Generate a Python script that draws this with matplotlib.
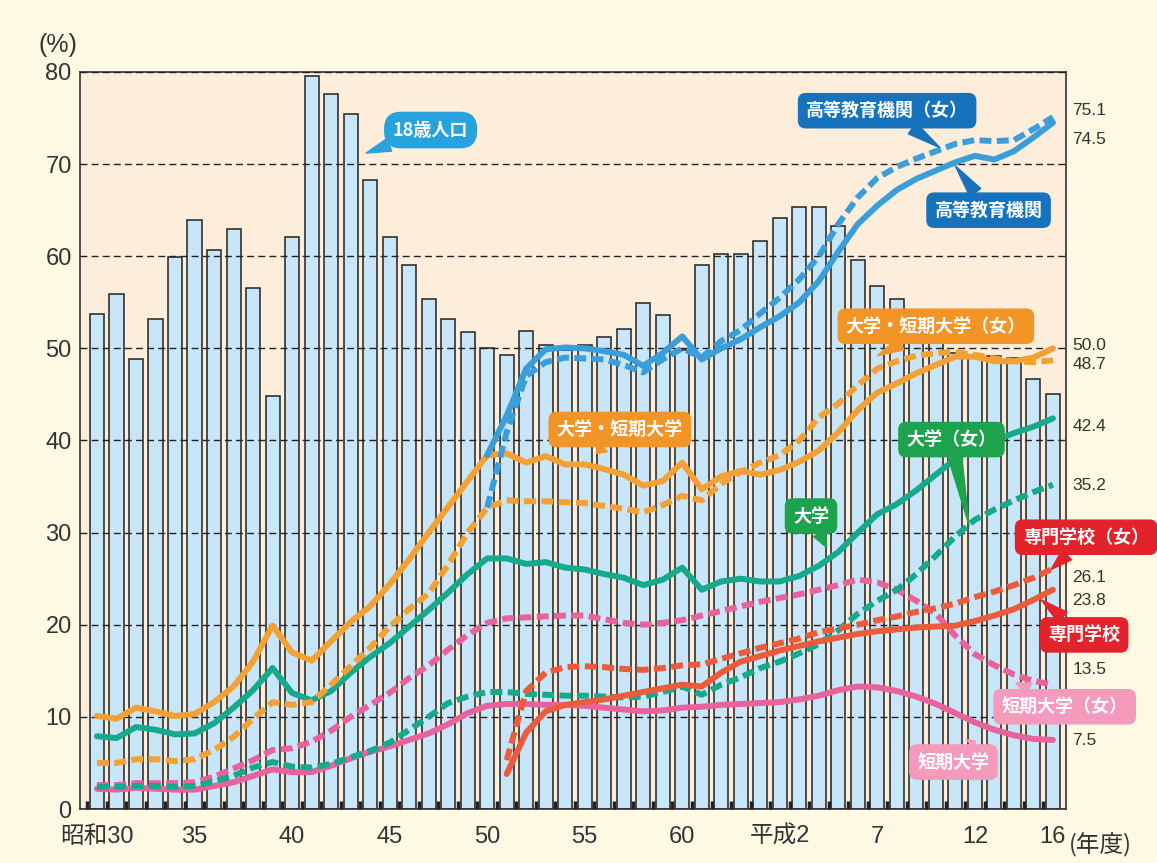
import numpy as np
import matplotlib
matplotlib.use('Agg')
import matplotlib.pyplot as plt

plt.rcParams['font.family'] = ['Liberation Sans', 'Noto Sans CJK JP', 'DejaVu Sans']

# ── data ─────────────────────────────────────────────────────────────
years = np.arange(1955, 2005)          # 昭和30 … 平成16
years_he = np.arange(1975, 2005)       # 高等教育機関
years_sen = np.arange(1976, 2005)      # 専門学校

# 18歳人口 (bars, plotted on the same scale)
pop_18 = [53.7, 55.9, 48.9, 53.2, 59.9, 63.9, 60.7, 63.0, 56.5, 44.8,
          62.1, 79.6, 77.6, 75.4, 68.3, 62.1, 59.0, 55.4, 53.2, 51.8,
          50.0, 49.3, 51.9, 50.4, 49.8, 50.4, 51.2, 52.1, 54.9, 53.6,
          49.8, 59.0, 60.2, 60.2, 61.7, 64.1, 65.4, 65.4, 63.3, 59.6,
          56.8, 55.4, 53.7, 51.8, 49.5, 49.3, 49.2, 49.0, 46.7, 45.0]

daigaku_tandai = [10.1, 9.8, 11.0, 10.6, 10.1, 10.3, 11.6, 13.3, 16.0, 19.9,
                  17.0, 16.1, 18.2, 20.3, 22.0, 24.4, 27.1, 30.0, 32.8, 35.6,
                  38.4, 38.6, 37.6, 38.3, 37.4, 37.4, 36.9, 36.3, 35.1, 35.6,
                  37.6, 34.7, 36.1, 36.7, 36.3, 36.8, 37.7, 38.9, 40.9, 43.3,
                  45.2, 46.2, 47.3, 48.2, 49.1, 49.1, 48.6, 48.6, 49.0, 50.0]
daigaku_tandai_f = [5.0, 5.0, 5.4, 5.4, 5.2, 5.4, 6.4, 7.8, 9.8, 11.6,
                    11.3, 11.6, 13.5, 15.5, 17.5, 19.8, 21.7, 23.4, 26.5, 30.0,
                    32.7, 33.5, 33.4, 33.4, 33.3, 33.2, 32.9, 32.6, 32.2, 33.0,
                    34.0, 33.5, 35.3, 36.6, 37.6, 38.4, 40.0, 42.5, 44.0, 46.0,
                    47.8, 48.6, 49.2, 49.5, 49.6, 49.3, 48.9, 48.6, 48.5, 48.7]
daigaku = [7.9, 7.7, 8.9, 8.6, 8.1, 8.2, 9.3, 11.0, 12.9, 15.3,
           12.6, 11.8, 12.8, 14.8, 16.5, 18.0, 19.8, 21.6, 23.5, 25.5,
           27.2, 27.2, 26.6, 26.8, 26.2, 26.0, 25.5, 25.1, 24.3, 24.9,
           26.2, 23.8, 24.7, 25.0, 24.7, 24.7, 25.3, 26.4, 27.9, 30.0,
           32.0, 33.1, 34.6, 36.3, 38.0, 39.5, 40.0, 40.8, 41.5, 42.4]
daigaku_f = [2.4, 2.4, 2.5, 2.5, 2.4, 2.5, 3.0, 3.6, 4.5, 5.1,
             4.6, 4.5, 4.9, 5.6, 6.3, 7.2, 8.6, 10.0, 11.5, 12.2,
             12.7, 12.7, 12.5, 12.4, 12.3, 12.3, 12.2, 12.1, 12.2, 12.7,
             13.3, 12.4, 13.5, 14.3, 15.3, 16.0, 16.9, 17.9, 19.4, 21.2,
             22.6, 23.8, 25.5, 27.5, 29.6, 31.4, 32.5, 33.5, 34.4, 35.2]
tandai = [2.2, 2.1, 2.3, 2.2, 2.1, 2.1, 2.5, 2.9, 3.6, 4.3,
          4.0, 4.0, 4.7, 5.5, 6.2, 6.8, 7.5, 8.2, 9.2, 10.4,
          11.2, 11.4, 11.4, 11.3, 11.3, 11.2, 11.0, 10.8, 10.6, 10.7,
          11.0, 11.1, 11.3, 11.4, 11.5, 11.6, 11.9, 12.3, 12.9, 13.3,
          13.2, 12.8, 12.2, 11.4, 10.4, 9.4, 8.6, 8.0, 7.6, 7.5]
tandai_f = [2.6, 2.6, 2.8, 2.8, 2.8, 2.9, 3.5, 4.4, 5.3, 6.4,
            6.6, 7.3, 8.5, 10.0, 11.3, 12.6, 14.2, 15.6, 17.3, 18.9,
            20.2, 20.7, 20.8, 20.9, 21.0, 21.0, 20.6, 20.2, 20.0, 20.2,
            20.5, 21.0, 21.5, 22.0, 22.5, 22.9, 23.3, 23.8, 24.3, 24.9,
            24.6, 23.8, 22.6, 21.2, 18.8, 16.8, 15.6, 14.6, 13.9, 13.5]
senmon = [3.8, 8.3, 10.6, 11.3, 11.6, 11.9, 12.3, 12.7, 13.1, 13.5,
          13.3, 14.8, 16.0, 16.6, 17.2, 17.7, 18.2, 18.6, 19.0, 19.3,
          19.5, 19.7, 19.8, 19.9, 20.4, 21.0, 21.7, 22.7, 23.8]
senmon_f = [5.3, 12.8, 14.8, 15.4, 15.5, 15.4, 15.2, 15.1, 15.3, 15.6,
            15.7, 16.3, 16.9, 17.5, 18.0, 18.5, 19.2, 19.6, 20.0, 20.5,
            20.9, 21.4, 21.8, 22.3, 23.0, 23.6, 24.3, 25.1, 26.1]
koutou = [38.4, 42.7, 47.8, 49.9, 50.1, 50.0, 49.7, 49.3, 48.1, 49.5,
          51.3, 48.8, 50.0, 51.0, 52.3, 53.5, 55.0, 57.3, 60.5, 63.5,
          65.5, 67.2, 68.4, 69.3, 70.2, 70.9, 70.5, 71.4, 72.9, 74.5]
koutou_f = [32.7, 40.9, 47.0, 48.5, 49.0, 48.9, 48.8, 48.2, 47.4, 48.8,
            50.0, 49.0, 50.8, 52.0, 53.8, 55.5, 57.5, 60.0, 63.5, 66.4,
            68.5, 69.7, 70.6, 71.4, 72.2, 72.6, 72.5, 72.6, 73.8, 75.1]

tick_years = [1955, 1960, 1965, 1970, 1975, 1980, 1985, 1990, 1995, 2000, 2004]
tick_labels = ['昭和30', '35', '40', '45', '50', '55', '60', '平成2', '7', '12', '16']

# ── colours ──────────────────────────────────────────────────────────
C_BLUE, C_ORANGE, C_GREEN = '#3A9EDB', '#F5A032', '#16A98B'
C_RED, C_PINK = '#EE5B3A', '#E9629C'

fig = plt.figure(figsize=(11.57, 8.63), dpi=100, facecolor='#FFF9E4')
ax = fig.add_axes([80/1157, 1-809/863, 986/1157, 737/863])
ax.set_facecolor('#FDEEDC')

ax.bar(years, pop_18, width=0.72, color='#C8E6F8', edgecolor='#222222',
       linewidth=1.1, zorder=1)

ax.set_xlim(1954.13, 2004.67)
ax.set_ylim(0, 80)
ax.set_yticks(range(0, 81, 10))
ax.yaxis.grid(True, linestyle=(0, (5, 3)), color='#222222', linewidth=1.0)
ax.set_axisbelow(False)

# ── lines ────────────────────────────────────────────────────────────
LW = 4.3
DASH = (0, (2.0, 0.9))
series = [
    (years, tandai_f, C_PINK, DASH),
    (years, tandai, C_PINK, '-'),
    (years, daigaku_f, C_GREEN, DASH),
    (years, daigaku, C_GREEN, '-'),
    (years_sen, senmon_f, C_RED, DASH),
    (years_sen, senmon, C_RED, '-'),
    (years, daigaku_tandai_f, C_ORANGE, DASH),
    (years, daigaku_tandai, C_ORANGE, '-'),
    (years_he, koutou_f, C_BLUE, DASH),
    (years_he, koutou, C_BLUE, '-'),
]
for i, (xs, ys, c, ls) in enumerate(series):
    ax.plot(xs, ys, color=c, linestyle=ls, linewidth=LW, zorder=4 + i,
            solid_capstyle='round', solid_joinstyle='round',
            dash_capstyle='butt')

# ── end-value labels ─────────────────────────────────────────────────
end_vals = [koutou_f[-1], koutou[-1], daigaku_tandai[-1], daigaku_tandai_f[-1],
            daigaku[-1], daigaku_f[-1], senmon_f[-1], senmon[-1],
            tandai_f[-1], tandai[-1]]
end_pos = [75.8, 72.7, 50.3, 48.3, 41.5, 35.1, 25.1, 22.6, 15.1, 7.4]
for v, p in zip(end_vals, end_pos):
    ax.text(2005.0, p, f'{v:.1f}', fontsize=12.5, color='#333333',
            va='center', ha='left', clip_on=False)

# ── callouts ─────────────────────────────────────────────────────────
callouts = [
    ('18歳人口', (1972.1, 73.7), (1968.8, 71.2), '#27A2DC', 'round,pad=0.45,rounding_size=0.9'),
    ('高等教育機関（女）', (1995.5, 75.8), (1998.2, 71.8), '#1772BC', None),
    ('高等教育機関', (2000.7, 65.0), (1999.0, 69.8), '#1772BC', None),
    ('大学・短期大学（女）', (1998.0, 52.4), (1995.0, 49.2), '#F39427', None),
    ('大学・短期大学', (1981.8, 41.2), (1980.6, 38.6), '#F39427', None),
    ('大学（女）', (1998.8, 40.1), (1999.7, 30.8), '#1DA34D', None),
    ('大学', (1991.6, 31.8), (1992.4, 28.4), '#1DA34D', None),
    ('専門学校（女）', (2005.7, 29.5), (2003.9, 26.0), '#E3222B', None),
    ('専門学校', (2005.6, 18.9), (2003.4, 22.7), '#E3222B', None),
    ('短期大学（女）', (2004.6, 11.1), (2002.1, 13.7), '#F49ABA', None),
    ('短期大学', (1998.9, 5.1), (2000.0, 7.4), '#F49ABA', None),
]
for text, box_xy, tip_xy, c, style in callouts:
    ax.annotate(text, xy=tip_xy, xytext=box_xy, ha='center', va='center',
                fontsize=13, fontweight='bold', color='white',
                family=['Noto Sans CJK JP', 'DejaVu Sans'], zorder=20,
                bbox=dict(boxstyle=style or 'round,pad=0.42,rounding_size=0.4',
                          fc=c, ec=c),
                arrowprops=dict(arrowstyle='wedge,tail_width=0.75', fc=c, ec=c,
                                shrinkA=0, shrinkB=0),
                annotation_clip=False)

# ── axes styling ─────────────────────────────────────────────────────
ax.set_xticks(tick_years)
ax.set_xticklabels(tick_labels)
ax.set_xticks(years - 0.5, minor=True)
ax.tick_params(axis='x', which='major', length=0, pad=12, labelsize=17,
               labelcolor='#333333')
ax.tick_params(axis='x', which='minor', direction='in', length=6, width=2.5,
               color='#222222')
ax.tick_params(axis='y', length=0, pad=6, labelsize=17, labelcolor='#333333')
for s in ax.spines.values():
    s.set_color('#333333')
    s.set_linewidth(1.2)

fig.text(38/1157, 1-45/863, '(%)', fontsize=18, color='#333333', va='center')
fig.text(1069/1157, 1-845/863, '(年度)', fontsize=17, color='#333333',
         va='center', family=['Noto Sans CJK JP', 'DejaVu Sans'])

fig.savefig('out.png', dpi=100, facecolor=fig.get_facecolor())
